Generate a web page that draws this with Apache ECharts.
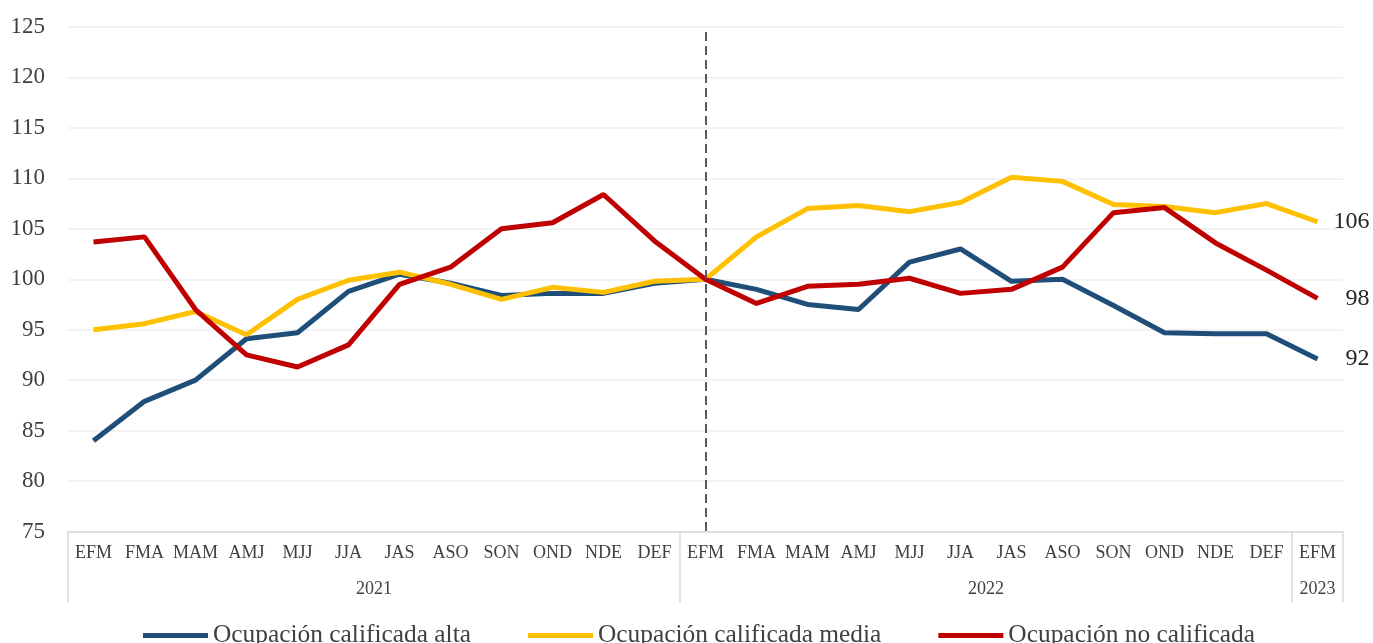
<!DOCTYPE html>
<html>
<head>
<meta charset="utf-8">
<script src="https://cdn.jsdelivr.net/npm/echarts@6/dist/echarts.min.js"></script>
<style>html,body{margin:0;padding:0;background:#fff}#c{width:1373px;height:643px}</style>
</head>
<body>
<div id="c"></div>
<script>
const categories = ['EFM','FMA','MAM','AMJ','MJJ','JJA','JAS','ASO','SON','OND','NDE','DEF',
                    'EFM','FMA','MAM','AMJ','MJJ','JJA','JAS','ASO','SON','OND','NDE','DEF','EFM'];
const yearLabels = ['2021','2022','2023'];
const yearCenters = [6, 18, 24.5];
const yearBounds = [0, 12, 24, 25];
const seriesNames = ['Ocupación calificada alta','Ocupación calificada media','Ocupación no calificada'];
const alta  = [84.0,87.9,90.0,94.1,94.7,98.8,100.5,99.6,98.4,98.6,98.6,99.6,
               100.0,99.0,97.5,97.0,101.7,103.0,99.8,100.0,97.4,94.7,94.6,94.6,92.1];
const media = [95.0,95.6,96.8,94.5,98.0,99.9,100.7,99.5,98.0,99.2,98.7,99.8,
               100.0,104.2,107.0,107.3,106.7,107.6,110.1,109.7,107.4,107.2,106.6,107.5,105.7];
const noCal = [103.7,104.2,97.0,92.5,91.3,93.5,99.5,101.2,105.0,105.6,108.4,103.8,
               100.0,97.6,99.3,99.5,100.1,98.6,99.0,101.2,106.6,107.1,103.6,100.9,98.1];
const dividerIndex = 12;
const dividerRange = [124.5, 75];

const FONT = "'Liberation Serif', 'Times New Roman', serif";
const colors = ['#1F4E79', '#FFC000', '#C00000'];

const chart = echarts.init(document.getElementById('c'), null, {renderer: 'canvas'});
function mk(name, data, color, withMark) {
  const s = {
    name: name, type: 'line', data: data, symbol: 'none', smooth: false,
    lineStyle: {color: color, width: 5}, itemStyle: {color: color},
    endLabel: {show: true, formatter: p => Math.round(p.value), distance: 52, align: 'right',
               fontFamily: FONT, fontSize: 24, color: '#262626'},
    z: 3
  };
  if (withMark) {
    s.markLine = {silent: true, symbol: 'none', label: {show: false},
      lineStyle: {color: '#595959', type: [9, 5], width: 2},
      data: [[{xAxis: dividerIndex, yAxis: dividerRange[0]}, {xAxis: dividerIndex, yAxis: dividerRange[1]}]]};
  }
  return s;
}
chart.setOption({
  animation: false,
  backgroundColor: '#fff',
  grid: {left: 68, right: 30, top: 27, bottom: 111.5, containLabel: false},
  legend: {
    data: seriesNames, left: 138, top: 618, itemWidth: 65, itemHeight: 5, itemGap: 57,
    icon: 'rect', textStyle: {fontFamily: FONT, fontSize: 25.4, color: '#404040'}
  },
  xAxis: [{
    type: 'category', data: categories, boundaryGap: true,
    axisLine: {show: true, lineStyle: {color: '#D9D9D9', width: 1.5}},
    axisTick: {show: false},
    axisLabel: {interval: 0, margin: 13, fontFamily: FONT, fontSize: 18, color: '#404040'},
    splitLine: {show: false}
  }, {
    type: 'value', min: 0, max: 25, position: 'bottom',
    axisLine: {show: false},
    axisTick: {show: true, customValues: yearBounds, length: 71, lineStyle: {color: '#D9D9D9', width: 1.5}},
    axisLabel: {customValues: yearCenters, margin: 49, fontFamily: FONT, fontSize: 18, color: '#404040',
      formatter: v => yearLabels[yearCenters.indexOf(v)]},
    splitLine: {show: false}
  }],
  yAxis: {
    type: 'value', min: 75, max: 125, interval: 5,
    axisLine: {show: false}, axisTick: {show: false},
    axisLabel: {margin: 23, fontFamily: FONT, fontSize: 23, color: '#404040'},
    splitLine: {lineStyle: {color: '#EFEFEF', width: 1.5}}
  },
  series: [
    mk(seriesNames[0], alta, colors[0], true),
    mk(seriesNames[1], media, colors[1], false),
    mk(seriesNames[2], noCal, colors[2], false)
  ]
});
</script>
</body>
</html>
